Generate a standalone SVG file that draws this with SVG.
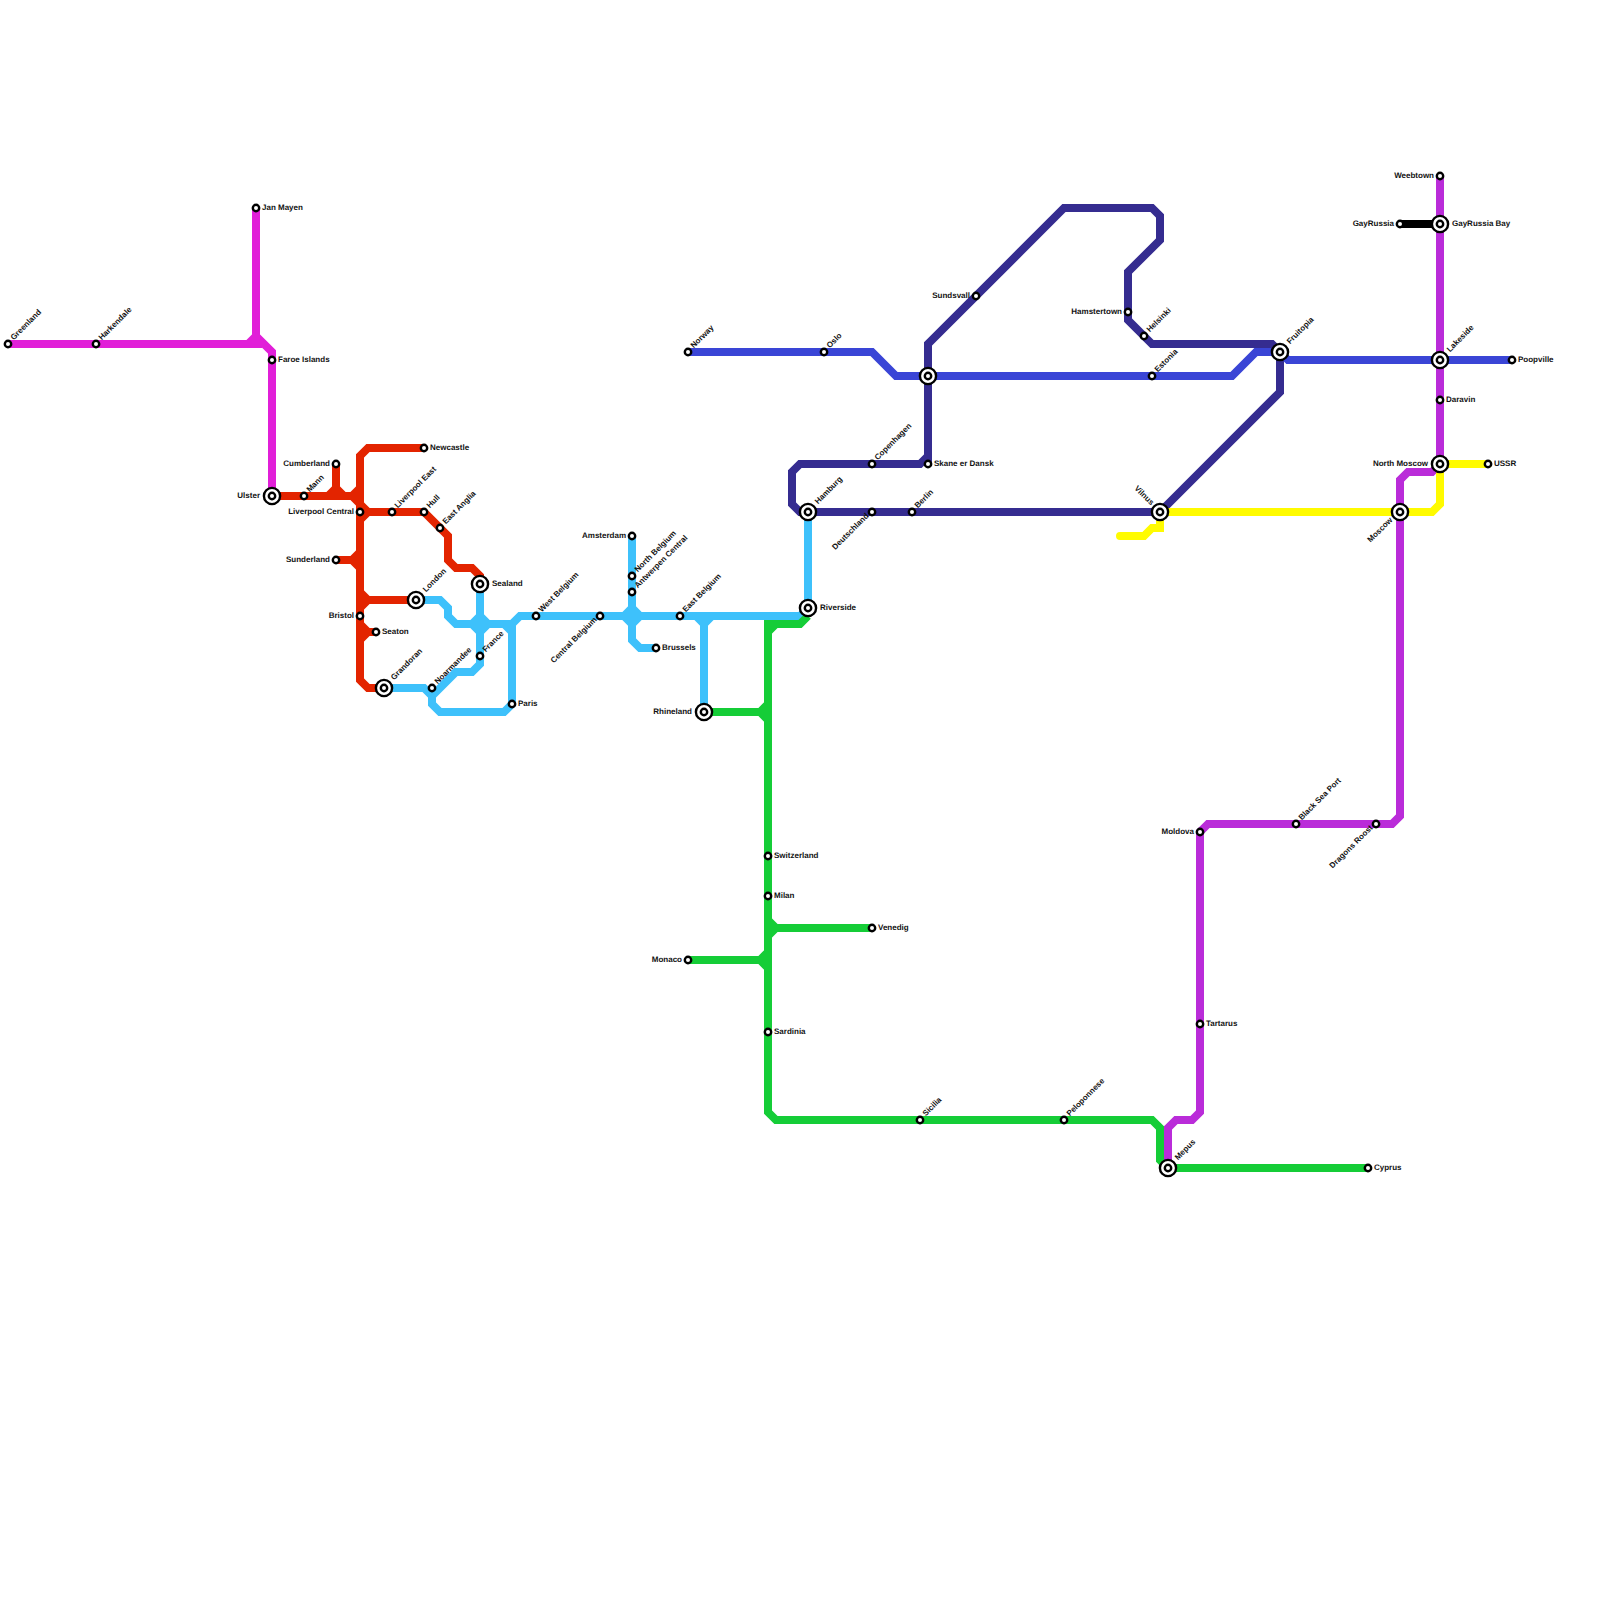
<svg xmlns="http://www.w3.org/2000/svg" width="1600" height="1600" viewBox="0 0 1600 1600">
<style>
.l{fill:none;stroke-width:8;stroke-linejoin:miter}
.red{stroke:#e32400}.cyan{stroke:#3ec1fb}.green{stroke:#15cd37}.purple{stroke:#ba2cd9}.magenta{stroke:#e11fd8}.blue{stroke:#3a45d6}.navy{stroke:#352c90}.yellow{stroke:#fffb00;stroke-linecap:round}.black{stroke:#000}
.s{fill:#fff;stroke:#000;stroke-width:2.4;r:3.2px}
.b{fill:#fff;stroke:#000;stroke-width:2.4;r:8.1px}
text{font-family:"Liberation Sans",Arial,sans-serif;font-size:8px;font-weight:700;fill:#111;text-rendering:geometricPrecision}
.e{text-anchor:end}
</style>
<rect width="1600" height="1600" fill="#fff"/>
<g id="connectors">
<path class="l magenta" d="M8 344H262M248 344L256 336M256 208V336L272 352V496"/>
<path class="l navy" d="M808 512H800L792 504V472L800 464H920L928 456M928 464V344L1064 208H1152L1160 216V240L1128 272V320L1152 344H1272L1280 352V392L1160 512H808"/>
<path class="l blue" d="M688 352H872L896 376H1232L1256 352H1280M1280 352L1288 360H1512"/>
<path class="l red" d="M272 496H352L360 488M352 496L360 504M360 520L368 512L360 504M336 464V488L328 496M336 488L344 496M424 448H368L360 456V680L368 688H384M368 512H424L448 536V560L456 568H472L480 576V584M336 560H352L360 552M352 560L360 568M416 600H368L360 592M368 600L360 608M376 632H368L360 624M368 632L360 640"/>
<path class="l cyan" d="M384 688H424L432 696V704L440 712H504L512 704V624L520 616H800L808 608V512M416 600H440L448 608V616L456 624H512M504 624L512 632M480 584V664L472 672H456L432 696M472 624L480 616L488 624L480 632ZM632 536V640L640 648H656M624 616L632 608L640 616L632 624ZM704 712V624M696 616L704 624L712 616"/>
<path class="l green" d="M808 616L800 624H768V1112L776 1120H1152L1160 1128V1160L1168 1168H1368M768 632L776 624M704 712H760L768 704M760 712L768 720M872 928H776L768 920M776 928L768 936M688 960H760L768 952M760 960L768 968"/>
<path class="l purple" d="M1440 176V464L1432 472H1408L1400 480V816L1392 824H1208L1200 832V1112L1192 1120H1176L1168 1128V1168"/>
<path class="l yellow" d="M1160 512H1432L1440 504V464H1488M1160 512V528H1152L1144 536H1120"/>
<path class="l black" d="M1400 224H1440"/>
</g>
<g id="n-greenland"><circle class="s" cx="8" cy="344"/><text transform="translate(8 344) rotate(-45)" x="6.400" y="1.600">Greenland</text></g>
<g id="n-harkendale"><circle class="s" cx="96" cy="344"/><text transform="translate(96 344) rotate(-45)" x="6.400" y="1.600">Harkendale</text></g>
<g id="n-janmayen"><circle class="s" cx="256" cy="208"/><text x="262" y="210">Jan Mayen</text></g>
<g id="n-faroe"><circle class="s" cx="272" cy="360"/><text x="278" y="362">Faroe Islands</text></g>
<g id="n-ulster"><circle class="b" cx="272" cy="496"/><circle class="s" cx="272" cy="496"/><text class="e" x="260" y="498">Ulster</text></g>
<g id="n-mann"><circle class="s" cx="304" cy="496"/><text transform="translate(304 496) rotate(-45)" x="6.400" y="1.600">Mann</text></g>
<g id="n-cumberland"><circle class="s" cx="336" cy="464"/><text class="e" x="330" y="466">Cumberland</text></g>
<g id="n-sunderland"><circle class="s" cx="336" cy="560"/><text class="e" x="330" y="562">Sunderland</text></g>
<g id="n-liverpool-central"><circle class="s" cx="360" cy="512"/><text class="e" x="354" y="514">Liverpool Central</text></g>
<g id="n-liverpool-east"><circle class="s" cx="392" cy="512"/><text transform="translate(392 512) rotate(-45)" x="6.400" y="1.600">Liverpool East</text></g>
<g id="n-hull"><circle class="s" cx="424" cy="512"/><text transform="translate(424 512) rotate(-45)" x="6.400" y="1.600">Hull</text></g>
<g id="n-east-anglia"><circle class="s" cx="440" cy="528"/><text transform="translate(440 528) rotate(-45)" x="6.400" y="1.600">East Anglia</text></g>
<g id="n-newcastle"><circle class="s" cx="424" cy="448"/><text x="430" y="450">Newcastle</text></g>
<g id="n-london"><circle class="b" cx="416" cy="600"/><circle class="s" cx="416" cy="600"/><text transform="translate(416 600) rotate(-45)" x="12.400" y="1.600">London</text></g>
<g id="n-bristol"><circle class="s" cx="360" cy="616"/><text class="e" x="354" y="618">Bristol</text></g>
<g id="n-seaton"><circle class="s" cx="376" cy="632"/><text x="382" y="634">Seaton</text></g>
<g id="n-grandoran"><circle class="b" cx="384" cy="688"/><circle class="s" cx="384" cy="688"/><text transform="translate(384 688) rotate(-45)" x="12.400" y="1.600">Grandoran</text></g>
<g id="n-noarmandee"><circle class="s" cx="432" cy="688"/><text transform="translate(432 688) rotate(-45)" x="6.400" y="1.600">Noarmandee</text></g>
<g id="n-sealand"><circle class="b" cx="480" cy="584"/><circle class="s" cx="480" cy="584"/><text x="492" y="586">Sealand</text></g>
<g id="n-france"><circle class="s" cx="480" cy="656"/><text transform="translate(480 656) rotate(-45)" x="6.400" y="1.600">France</text></g>
<g id="n-paris"><circle class="s" cx="512" cy="704"/><text x="518" y="706">Paris</text></g>
<g id="n-west-belgium"><circle class="s" cx="536" cy="616"/><text transform="translate(536 616) rotate(-45)" x="6.400" y="1.600">West Belgium</text></g>
<g id="n-central-belgium"><circle class="s" cx="600" cy="616"/><text class="e" transform="translate(600 616) rotate(-45)" x="-5" y="1">Central Belgium</text></g>
<g id="n-amsterdam"><circle class="s" cx="632" cy="536"/><text class="e" x="626" y="538">Amsterdam</text></g>
<g id="n-north-belgium"><circle class="s" cx="632" cy="576"/><text transform="translate(632 576) rotate(-45)" x="6.400" y="1.600">North Belgium</text></g>
<g id="n-antwerpen"><circle class="s" cx="632" cy="592"/><text transform="translate(632 592) rotate(-45)" x="6.400" y="1.600">Antwerpen Central</text></g>
<g id="n-brussels"><circle class="s" cx="656" cy="648"/><text x="662" y="650">Brussels</text></g>
<g id="n-east-belgium"><circle class="s" cx="680" cy="616"/><text transform="translate(680 616) rotate(-45)" x="6.400" y="1.600">East Belgium</text></g>
<g id="n-rhineland"><circle class="b" cx="704" cy="712"/><circle class="s" cx="704" cy="712"/><text class="e" x="692" y="714">Rhineland</text></g>
<g id="n-riverside"><circle class="b" cx="808" cy="608"/><circle class="s" cx="808" cy="608"/><text x="820" y="610">Riverside</text></g>
<g id="n-hamburg"><circle class="b" cx="808" cy="512"/><circle class="s" cx="808" cy="512"/><text transform="translate(808 512) rotate(-45)" x="12.400" y="1.600">Hamburg</text></g>
<g id="n-norway"><circle class="s" cx="688" cy="352"/><text transform="translate(688 352) rotate(-45)" x="6.400" y="1.600">Norway</text></g>
<g id="n-oslo"><circle class="s" cx="824" cy="352"/><text transform="translate(824 352) rotate(-45)" x="6.400" y="1.600">Oslo</text></g>
<g id="n-copenhagen"><circle class="s" cx="872" cy="464"/><text transform="translate(872 464) rotate(-45)" x="6.400" y="1.600">Copenhagen</text></g>
<g id="n-deutschland"><circle class="s" cx="872" cy="512"/><text class="e" transform="translate(872 512) rotate(-45)" x="-5" y="1">Deutschland</text></g>
<g id="n-berlin"><circle class="s" cx="912" cy="512"/><text transform="translate(912 512) rotate(-45)" x="6.400" y="1.600">Berlin</text></g>
<g id="n-skane"><circle class="s" cx="928" cy="464"/><text x="934" y="466">Skane er Dansk</text></g>
<g id="n-interchange"><circle class="b" cx="928" cy="376"/><circle class="s" cx="928" cy="376"/></g>
<g id="n-sundsvall"><circle class="s" cx="976" cy="296"/><text class="e" x="970" y="298">Sundsvall</text></g>
<g id="n-hamstertown"><circle class="s" cx="1128" cy="312"/><text class="e" x="1122" y="314">Hamstertown</text></g>
<g id="n-helsinki"><circle class="s" cx="1144" cy="336"/><text transform="translate(1144 336) rotate(-45)" x="6.400" y="1.600">Helsinki</text></g>
<g id="n-estonia"><circle class="s" cx="1152" cy="376"/><text transform="translate(1152 376) rotate(-45)" x="6.400" y="1.600">Estonia</text></g>
<g id="n-fruitopia"><circle class="b" cx="1280" cy="352"/><circle class="s" cx="1280" cy="352"/><text transform="translate(1280 352) rotate(-45)" x="12.400" y="1.600">Fruitopia</text></g>
<g id="n-vilnus"><circle class="b" cx="1160" cy="512"/><circle class="s" cx="1160" cy="512"/><text class="e" transform="translate(1160 512) rotate(45)" x="-11" y="2">Vilnus</text></g>
<g id="n-lakeside"><circle class="b" cx="1440" cy="360"/><circle class="s" cx="1440" cy="360"/><text transform="translate(1440 360) rotate(-45)" x="12.400" y="1.600">Lakeside</text></g>
<g id="n-poopville"><circle class="s" cx="1512" cy="360"/><text x="1518" y="362">Poopville</text></g>
<g id="n-daravin"><circle class="s" cx="1440" cy="400"/><text x="1446" y="402">Daravin</text></g>
<g id="n-north-moscow"><circle class="b" cx="1440" cy="464"/><circle class="s" cx="1440" cy="464"/><text class="e" x="1428" y="466">North Moscow</text></g>
<g id="n-ussr"><circle class="s" cx="1488" cy="464"/><text x="1494" y="466">USSR</text></g>
<g id="n-moscow"><circle class="b" cx="1400" cy="512"/><circle class="s" cx="1400" cy="512"/><text class="e" transform="translate(1400 512) rotate(-45)" x="-11" y="1">Moscow</text></g>
<g id="n-gayrussia"><circle class="s" cx="1400" cy="224"/><text class="e" x="1394" y="226">GayRussia</text></g>
<g id="n-gayrussia-bay"><circle class="b" cx="1440" cy="224"/><circle class="s" cx="1440" cy="224"/><text x="1452" y="226">GayRussia Bay</text></g>
<g id="n-weebtown"><circle class="s" cx="1440" cy="176"/><text class="e" x="1434" y="178">Weebtown</text></g>
<g id="n-moldova"><circle class="s" cx="1200" cy="832"/><text class="e" x="1194" y="834">Moldova</text></g>
<g id="n-black-sea"><circle class="s" cx="1296" cy="824"/><text transform="translate(1296 824) rotate(-45)" x="6.400" y="1.600">Black Sea Port</text></g>
<g id="n-dragons"><circle class="s" cx="1376" cy="824"/><text class="e" transform="translate(1376 824) rotate(-45)" x="-5" y="1">Dragons Roost</text></g>
<g id="n-tartarus"><circle class="s" cx="1200" cy="1024"/><text x="1206" y="1026">Tartarus</text></g>
<g id="n-mepus"><circle class="b" cx="1168" cy="1168"/><circle class="s" cx="1168" cy="1168"/><text transform="translate(1168 1168) rotate(-45)" x="12.400" y="1.600">Mepus</text></g>
<g id="n-cyprus"><circle class="s" cx="1368" cy="1168"/><text x="1374" y="1170">Cyprus</text></g>
<g id="n-peloponnese"><circle class="s" cx="1064" cy="1120"/><text transform="translate(1064 1120) rotate(-45)" x="6.400" y="1.600">Peloponnese</text></g>
<g id="n-sicilia"><circle class="s" cx="920" cy="1120"/><text transform="translate(920 1120) rotate(-45)" x="6.400" y="1.600">Sicilia</text></g>
<g id="n-sardinia"><circle class="s" cx="768" cy="1032"/><text x="774" y="1034">Sardinia</text></g>
<g id="n-monaco"><circle class="s" cx="688" cy="960"/><text class="e" x="682" y="962">Monaco</text></g>
<g id="n-venedig"><circle class="s" cx="872" cy="928"/><text x="878" y="930">Venedig</text></g>
<g id="n-milan"><circle class="s" cx="768" cy="896"/><text x="774" y="898">Milan</text></g>
<g id="n-switzerland"><circle class="s" cx="768" cy="856"/><text x="774" y="858">Switzerland</text></g>
</svg>
